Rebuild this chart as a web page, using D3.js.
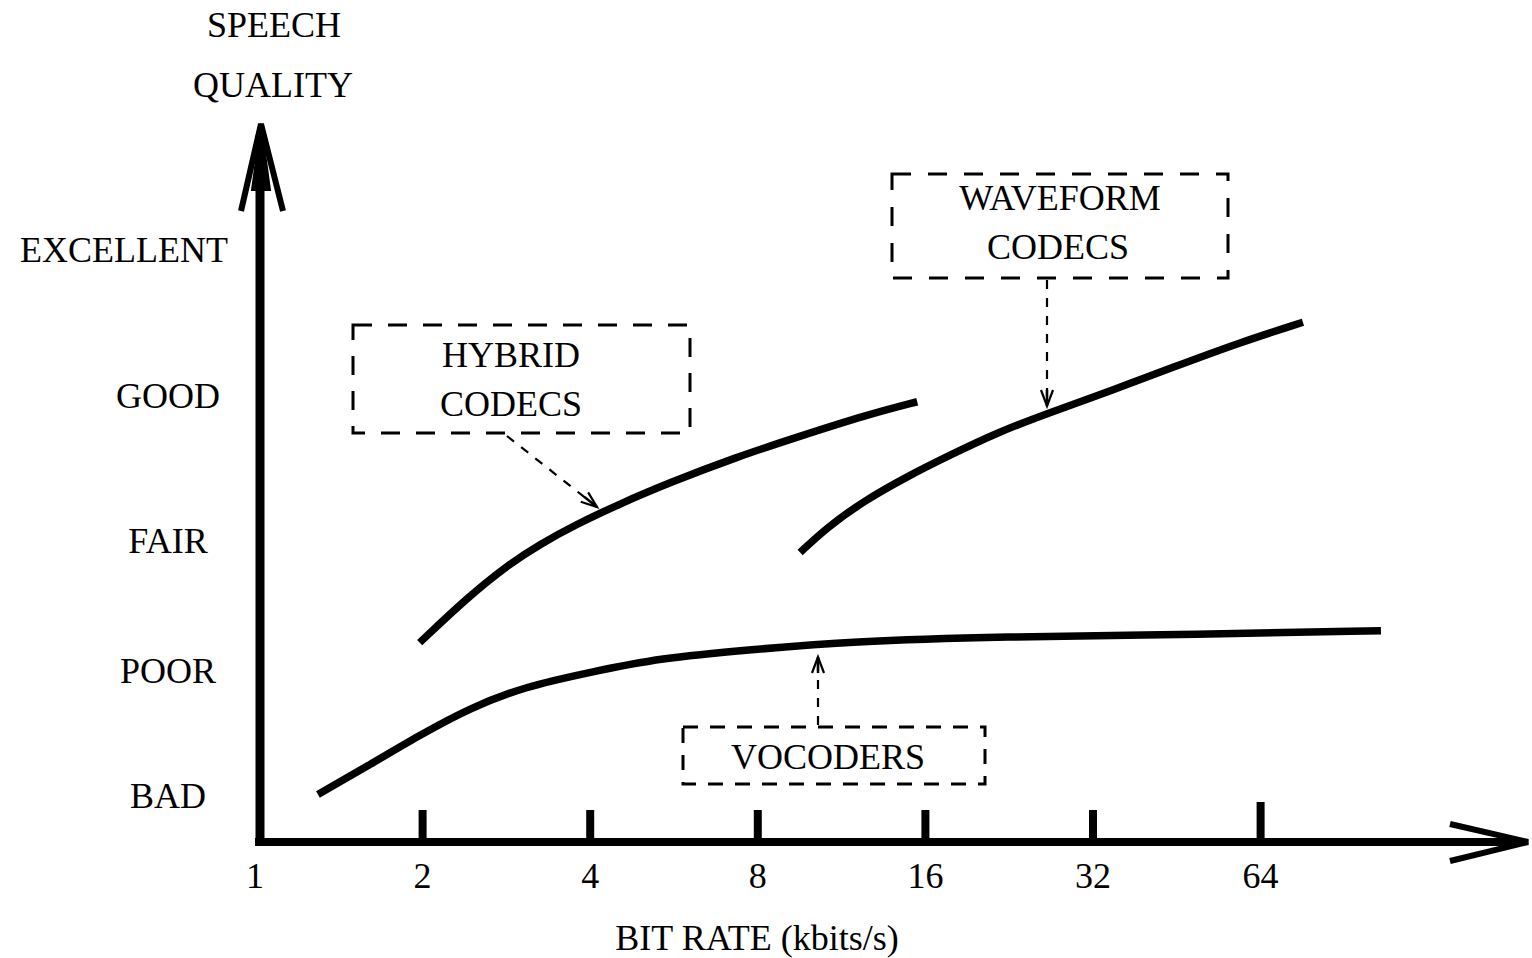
<!DOCTYPE html>
<html>
<head>
<meta charset="utf-8">
<script src="https://cdn.jsdelivr.net/npm/d3@7"></script>
<style>
  html, body { margin: 0; padding: 0; background: #fff; }
  svg { display: block; }
  text { font-family: "Liberation Serif", "Times New Roman", serif; fill: #000; }
</style>
</head>
<body>
<svg id="chart" width="1532" height="958"></svg>
<script>
// ---------- DATA ----------
const bitRateTicks = [1, 2, 4, 8, 16, 32, 64];           // kbit/s (log2 axis)
const qualityLabels = ["BAD", "POOR", "FAIR", "GOOD", "EXCELLENT"];
const qualityLevels = [0.40, 1.45, 2.55, 3.77, 5.0];      // position of each label on the quality scale

// Hybrid codecs curve
const hybridRate    = [1.98, 2.41, 2.88, 3.26, 3.76, 4.53, 5.58, 7.30, 9.55, 12.6, 15.5];
const hybridQuality = [1.68, 2.06, 2.35, 2.51, 2.67, 2.85, 3.03, 3.24, 3.42, 3.60, 3.71];

// Waveform codecs curve
const waveRate    = [9.55, 10.67, 12.39, 14.86, 17.75, 21.56, 26.84, 33.97, 44.6, 58.9, 76.4];
const waveQuality = [2.44, 2.65, 2.87, 3.08, 3.26, 3.45, 3.62, 3.79, 4.00, 4.21, 4.38];

// Vocoders curve
const vocoderRate    = [1.30, 1.61, 1.98, 2.44, 3.06, 4.00, 5.35, 7.76, 11.74, 21.8, 49.9, 105.5];
const vocoderQuality = [0.40, 0.65, 0.90, 1.13, 1.31, 1.43, 1.55, 1.62, 1.69, 1.73, 1.75, 1.78];

// ---------- SCALES ----------
const svg = d3.select("#chart");
svg.append("rect").attr("width", 1532).attr("height", 958).attr("fill", "#fff");

const x = d3.scaleLog().base(2).domain([1, 128]).range([254.5, 254.5 + 7 * 167.6]);
const y = d3.scaleLinear().domain([0, 6]).range([842, 130]);

const FS = 36;

// ---------- X AXIS (ticks + labels) ----------
const xAxis = d3.axisBottom(x)
  .tickValues(bitRateTicks)
  .tickFormat(d3.format("d"))
  .tickSizeInner(-32)
  .tickSizeOuter(0)
  .tickPadding(20);

const gx = svg.append("g").attr("transform", "translate(0,842)").call(xAxis);
gx.select(".domain").remove();
gx.selectAll(".tick line").attr("stroke", "#000").attr("stroke-width", 8)
  .attr("y2", d => d === 64 ? -40 : -32);
gx.selectAll(".tick").filter(d => d === 1).select("line").remove();
gx.selectAll(".tick text")
  .attr("font-size", FS)
  .attr("font-family", "Liberation Serif")
  .attr("fill", "#000");

// ---------- Y AXIS (labels only) ----------
const yAxis = d3.axisLeft(y)
  .tickValues(qualityLevels)
  .tickFormat((d, i) => qualityLabels[i])
  .tickSize(0);
const gy = svg.append("g").call(yAxis);
gy.select(".domain").remove();
gy.selectAll(".tick text")
  .attr("font-size", FS)
  .attr("font-family", "Liberation Serif")
  .attr("fill", "#000")
  .attr("text-anchor", "middle")
  .attr("dy", "0.35em")
  .each(function () {
    const w = this.getComputedTextLength();
    const cx = Math.min(168, 228 - w / 2);
    d3.select(this).attr("x", cx);
  });

// ---------- AXIS LINES WITH ARROWS ----------
const axisG = svg.append("g").attr("stroke", "#000").attr("fill", "none");
axisG.append("line").attr("x1", 255).attr("y1", 842).attr("x2", 1524).attr("y2", 842)
  .attr("stroke-width", 8);
axisG.append("polyline")
  .attr("points", "1450,824 1528,842 1450,861")
  .attr("stroke-width", 6).attr("stroke-linejoin", "miter");
axisG.append("line").attr("x1", 260).attr("y1", 846).attr("x2", 260).attr("y2", 135)
  .attr("stroke-width", 9);
axisG.append("polyline")
  .attr("points", "241,211 261,124 283,211")
  .attr("stroke-width", 6).attr("stroke-linejoin", "miter");
axisG.append("path").attr("d", "M252,190 L261,124 L270,190 Z").attr("fill", "#000").attr("stroke-width", 2);

// ---------- AXIS TITLES ----------
const titles = svg.append("g").attr("font-size", FS).attr("text-anchor", "middle");
titles.append("text").attr("x", 274).attr("y", 37).text("SPEECH");
titles.append("text").attr("x", 273).attr("y", 97).text("QUALITY");
titles.append("text").attr("x", 757).attr("y", 950).text("BIT RATE (kbits/s)");

// ---------- CURVES ----------
const line = d3.line()
  .x(d => x(d[0]))
  .y(d => y(d[1]))
  .curve(d3.curveBasis);

const series = [
  { rate: hybridRate, quality: hybridQuality },
  { rate: waveRate, quality: waveQuality },
  { rate: vocoderRate, quality: vocoderQuality }
];
svg.append("g").selectAll("path").data(series).join("path")
  .attr("d", s => line(s.rate.map((r, i) => [r, s.quality[i]])))
  .attr("fill", "none")
  .attr("stroke", "#000")
  .attr("stroke-width", 7.5)
  .attr("stroke-linecap", "butt");

// ---------- ANNOTATION BOXES ----------
const ann = svg.append("g");
function box(x0, y0, x1, y1, dash) {
  ann.append("rect").attr("x", x0).attr("y", y0).attr("width", x1 - x0).attr("height", y1 - y0)
    .attr("fill", "none").attr("stroke", "#000").attr("stroke-width", 3)
    .attr("stroke-dasharray", dash);
}
function label(cx, baseline, t) {
  ann.append("text").attr("x", cx).attr("y", baseline).attr("text-anchor", "middle")
    .attr("font-size", FS).text(t);
}
function leader(x0, y0, x1, y1) {
  ann.append("line").attr("x1", x0).attr("y1", y0).attr("x2", x1).attr("y2", y1)
    .attr("stroke", "#000").attr("stroke-width", 2.2).attr("stroke-dasharray", "9,9");
  const a = Math.atan2(y1 - y0, x1 - x0);
  const L = 16, W = 6;
  const bx = x1 - L * Math.cos(a), by = y1 - L * Math.sin(a);
  const px = -Math.sin(a) * W, py = Math.cos(a) * W;
  ann.append("path")
    .attr("d", `M${bx + px},${by + py} L${x1},${y1} L${bx - px},${by - py}`)
    .attr("fill", "none").attr("stroke", "#000").attr("stroke-width", 2.2);
  ann.append("line").attr("x1", bx).attr("y1", by).attr("x2", x1).attr("y2", y1)
    .attr("stroke", "#000").attr("stroke-width", 2.5);
}

box(353, 325, 690, 433, "19,16");
label(511, 367, "HYBRID");
label(511, 416, "CODECS");
leader(507, 436, 597, 507);

box(892, 174, 1228, 278, "19,17");
label(1060, 210, "WAVEFORM");
label(1058, 259, "CODECS");
leader(1047, 280, 1047, 406);

box(683, 727, 985, 784, "15,12");
label(828, 769, "VOCODERS");
leader(818, 725, 818, 657);
</script>
</body>
</html>
